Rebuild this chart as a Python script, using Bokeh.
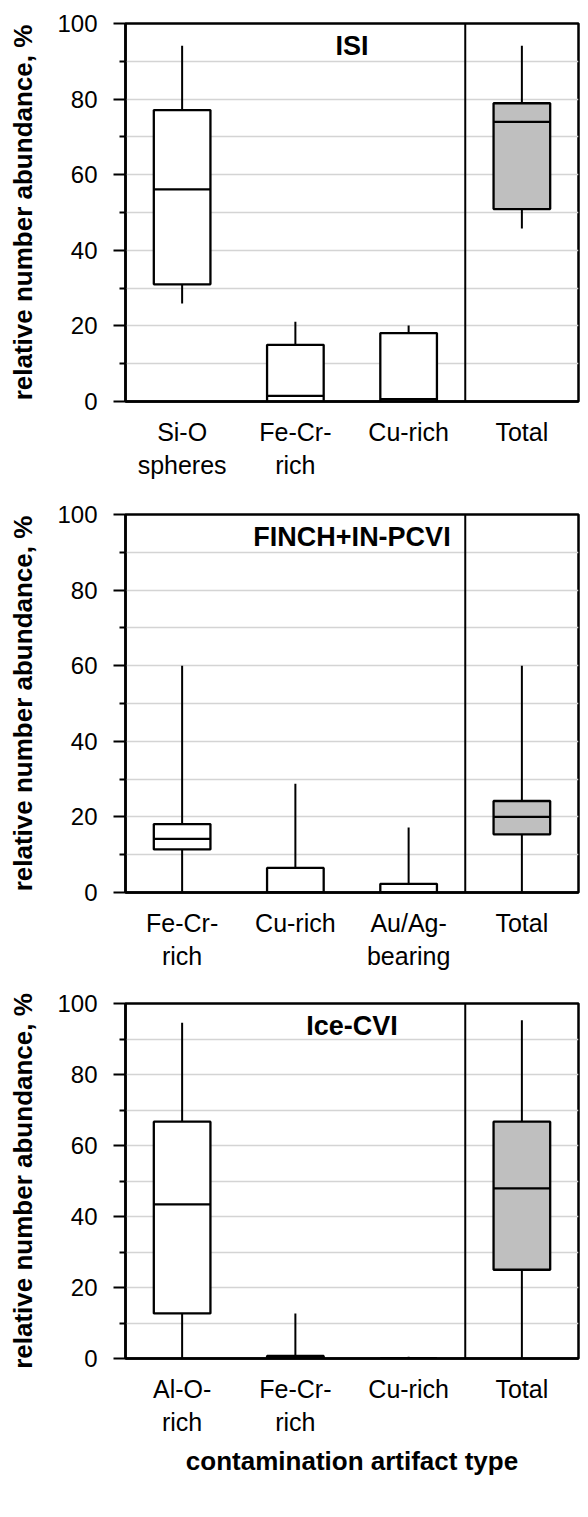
from bokeh.plotting import figure
from bokeh.layouts import column
from bokeh.models import Range1d, FixedTicker, Label, Span, ColumnDataSource
from bokeh.embed import file_html
from bokeh.resources import INLINE

FONT = "Liberation Sans"

# ISI
isi_types = ["Si-O\nspheres", "Fe-Cr-\nrich", "Cu-rich", "Total"]
isi_low = [25.9, 0.0, 0.0, 45.8]
isi_q1 = [31.0, 0.0, 0.0, 50.9]
isi_med = [56.1, 1.5, 0.6, 74.0]
isi_q3 = [77.1, 15.0, 18.1, 78.9]
isi_high = [94.1, 21.1, 20.1, 94.1]

# FINCH+IN-PCVI
finch_types = ["Fe-Cr-\nrich", "Cu-rich", "Au/Ag-\nbearing", "Total"]
finch_low = [0.0, 0.0, 0.0, 0.0]
finch_q1 = [11.4, 0.0, 0.0, 15.4]
finch_med = [14.2, 0.0, 0.0, 20.0]
finch_q3 = [18.1, 6.5, 2.3, 24.2]
finch_high = [60.0, 28.8, 17.2, 60.0]

# Ice-CVI
ice_types = ["Al-O-\nrich", "Fe-Cr-\nrich", "Cu-rich", "Total"]
ice_low = [0.0, 0.0, 0.0, 0.0]
ice_q1 = [12.7, 0.0, 0.0, 25.0]
ice_med = [43.4, 0.0, 0.0, 47.9]
ice_q3 = [66.7, 0.7, 0.0, 66.7]
ice_high = [94.6, 12.7, 0.5, 95.3]

y_ticks = [0, 20, 40, 60, 80, 100]
y_minor = [10, 30, 50, 70, 90]


def make_panel(name, types, low, q1, med, q3, high, height, top, bottom, xlabel=None):
    n = len(types)
    xs = [i + 0.5 for i in range(n)]
    half = 0.25
    fills = ["#bfbfbf" if t == "Total" else "white" for t in types]
    src = ColumnDataSource(dict(
        x=xs, xl=[x - half for x in xs], xr=[x + half for x in xs],
        low=low, q1=q1, med=med, q3=q3, high=high, fill=fills))

    p = figure(width=588, height=height, x_range=Range1d(0, n), y_range=Range1d(0, 100),
               output_backend="svg", toolbar_location=None,
               min_border_left=125, min_border_right=10,
               min_border_top=top, min_border_bottom=bottom)

    # whiskers
    p.segment(x0="x", x1="x", y0="low", y1="q1", source=src, line_color="black", line_width=2)
    p.segment(x0="x", x1="x", y0="q3", y1="high", source=src, line_color="black", line_width=2)
    # boxes and medians
    p.vbar(x="x", width=2 * half, bottom="q1", top="q3", source=src,
           fill_color="fill", line_color="black", line_width=2.3)
    p.segment(x0="xl", x1="xr", y0="med", y1="med", source=src, line_color="black", line_width=2.3)

    # separator before the Total column
    p.add_layout(Span(location=n - 1, dimension="height", line_color="black", line_width=2))

    p.add_layout(Label(x=n / 2, y=100, y_offset=-22, text=name, text_align="center",
                       text_baseline="middle", text_font=FONT, text_font_style="bold",
                       text_font_size="27px", text_color="black"))

    p.outline_line_color = "black"
    p.outline_line_width = 2.5
    p.outline_line_alpha = 1

    p.xgrid.grid_line_color = None
    p.ygrid.grid_line_color = "#d4d4d4"
    p.ygrid.minor_grid_line_color = "#d4d4d4"
    p.ygrid.grid_line_width = 1.3
    p.ygrid.minor_grid_line_width = 1.3

    ya = p.yaxis[0]
    ya.ticker = FixedTicker(ticks=y_ticks, minor_ticks=y_minor)
    ya.major_tick_out = 12
    ya.major_tick_in = 0
    ya.minor_tick_out = 6
    ya.minor_tick_in = 0
    ya.major_tick_line_width = 1.8
    ya.minor_tick_line_width = 1.8
    ya.major_tick_line_color = "black"
    ya.minor_tick_line_color = "black"
    ya.axis_line_width = 2.5
    ya.axis_line_color = "black"
    ya.major_label_standoff = 16
    ya.major_label_text_font = FONT
    ya.major_label_text_font_size = "24px"
    ya.major_label_text_color = "black"
    ya.axis_label = "relative number abundance, %"
    ya.axis_label_text_font = FONT
    ya.axis_label_text_font_style = "bold"
    ya.axis_label_text_font_size = "26px"
    ya.axis_label_text_color = "black"
    ya.axis_label_standoff = 16

    xa = p.xaxis[0]
    xa.ticker = FixedTicker(ticks=xs)
    xa.major_label_overrides = {x: t for x, t in zip(xs, types)}
    xa.major_tick_line_color = None
    xa.major_tick_out = 0
    xa.major_tick_in = 0
    xa.minor_tick_line_color = None
    xa.axis_line_width = 2.5
    xa.axis_line_color = "black"
    xa.major_label_standoff = 16
    xa.major_label_text_font = FONT
    xa.major_label_text_font_size = "25px"
    xa.major_label_text_color = "black"
    if xlabel:
        xa.axis_label = xlabel
        xa.axis_label_text_font = FONT
        xa.axis_label_text_font_style = "bold"
        xa.axis_label_text_font_size = "26px"
        xa.axis_label_text_color = "black"
        xa.axis_label_standoff = 7
    return p


p1 = make_panel("ISI", isi_types, isi_low, isi_q1, isi_med, isi_q3, isi_high,
                height=490, top=23, bottom=89)
p2 = make_panel("FINCH+IN-PCVI", finch_types, finch_low, finch_q1, finch_med, finch_q3, finch_high,
                height=490, top=24, bottom=88)
p3 = make_panel("Ice-CVI", ice_types, ice_low, ice_q1, ice_med, ice_q3, ice_high,
                height=537, top=23, bottom=159, xlabel="contamination artifact type")

layout = column(p1, p2, p3, spacing=0)
open("out.html", "w").write(file_html(layout, INLINE))
